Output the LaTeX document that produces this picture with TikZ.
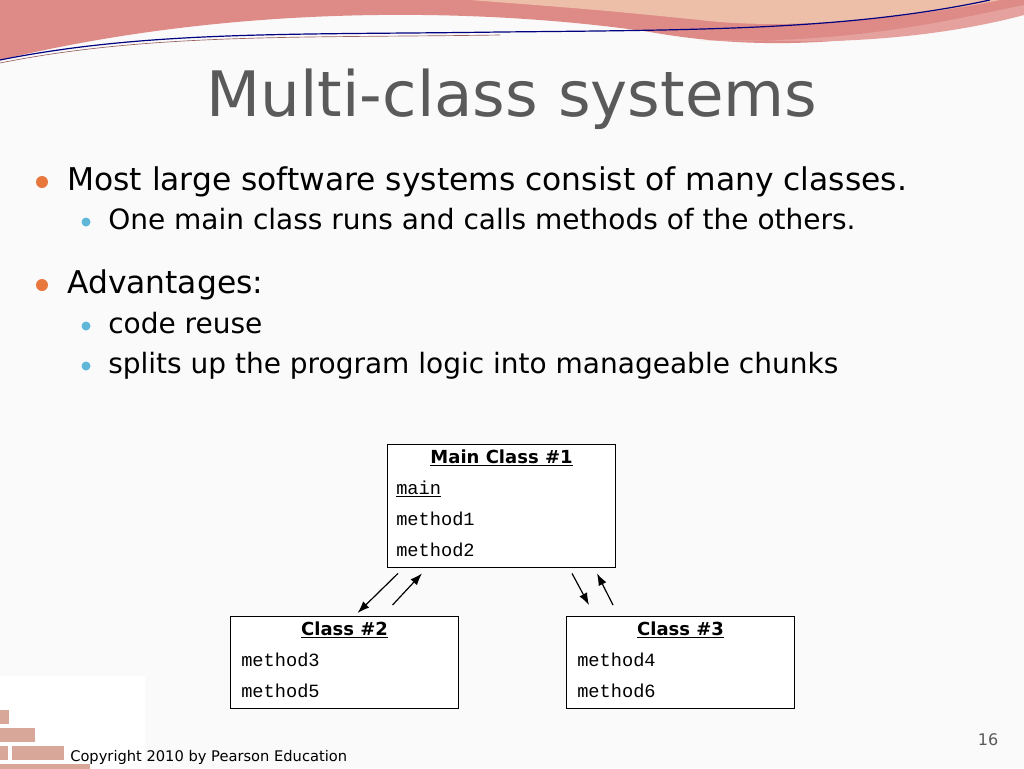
\documentclass[tikz,border=0pt]{standalone}
\usepackage{fontspec}
\setmainfont{DejaVu Sans}
\newfontfamily\codefont{Liberation Mono}
\usetikzlibrary{positioning,calc,arrows.meta}
\definecolor{swoosh}{HTML}{DE8A86}
\definecolor{swooshlt}{HTML}{EEBFA8}
\definecolor{bulletor}{HTML}{E8773D}
\definecolor{bulletbl}{HTML}{5FB6D9}
\definecolor{textgray}{HTML}{5A5A5A}
\definecolor{brick}{HTML}{D9A69A}
\tikzset{
  classbox/.style={draw, line width=0.8pt, fill=white, minimum width=171pt, anchor=north west, inner sep=0pt},
  hdr/.style={font=\fontsize{13.5}{13.5}\selectfont\bfseries, anchor=base},
  meth/.style={font=\codefont\fontsize{14}{14}\selectfont, anchor=base west, inner sep=0pt},
  call/.style={-{Latex[length=9pt,width=6.5pt]}, line width=0.9pt}
}
\begin{document}
\begin{tikzpicture}[x=0.75pt,y=-0.75pt]
\fill[white!96!gray] (0,0) rectangle (1024,768);
\useasboundingbox (0,0) rectangle (1024,768);

% top swoosh
\fill[swoosh] (0,0) -- (1024,0) -- (1024,8) .. controls (900,40) and (780,55) .. (650,32)
  .. controls (500,10) and (250,0) .. (0,60) -- cycle;
\fill[swooshlt] (470,0) -- (1000,0) .. controls (900,20) and (780,30) .. (700,20) .. controls (600,10) .. (470,0);
\fill[swoosh!80] (700,40) .. controls (850,45) and (950,20) .. (1024,5) -- (1024,15) .. controls (950,35) and (850,45) .. (760,40) -- cycle;
\draw[blue!50!black, line width=0.9pt] (0,60) .. controls (150,30) and (300,35) .. (500,32) .. controls (700,30) and (850,30) .. (990,0);
\draw[swoosh!70!black, line width=0.5pt] (0,63) .. controls (150,33) and (300,38) .. (500,35);

% title and bullets
\node[anchor=base, text=textgray, font=\fontsize{47}{47}\selectfont] (title) at (512,116) {Multi-class systems};
\foreach \y/\txt in {190/Most large software systems consist of many classes., 293/Advantages:} {
  \fill[bulletor] (42,\y-8) circle (6);
  \node[anchor=base west, inner sep=0pt, font=\fontsize{23.5}{23.5}\selectfont] at (67,\y) {\txt};
}
\foreach \y/\txt in {229/One main class runs and calls methods of the others., 333/code reuse, 373/splits up the program logic into manageable chunks} {
  \fill[bulletbl] (86,\y-7) circle (4.5);
  \node[anchor=base west, inner sep=0pt, font=\fontsize{21}{21}\selectfont] at (108,\y) {\txt};
}

% classes
\node[classbox, minimum height=92.5pt] (main) at (387,444) {};
\node[hdr] at ($(main.north)+(0,19)$) {\underline{Main Class \#1}};
\node[meth] at ($(main.north west)+(9,50)$) {\underline{main}};
\node[meth] at ($(main.north west)+(9,81)$) {method1};
\node[meth] at ($(main.north west)+(9,112)$) {method2};

\node[classbox, minimum height=69pt] (cls2) at (230,616) {};
\node[hdr] at ($(cls2.north)+(0,19)$) {\underline{Class \#2}};
\node[meth] at ($(cls2.north west)+(11,50)$) {method3};
\node[meth] at ($(cls2.north west)+(11,81)$) {method5};

\node[classbox, minimum height=69pt] (cls3) at (566,616) {};
\node[hdr] at ($(cls3.north)+(0,19)$) {\underline{Class \#3}};
\node[meth] at ($(cls3.north west)+(11,50)$) {method4};
\node[meth] at ($(cls3.north west)+(11,81)$) {method6};

\draw[call] ($(main.south west)+(11,5)$) -- ($(cls2.north)+(13,-3)$);
\draw[call] ($(cls2.north)+(48,-11)$) -- ($(main.south west)+(35,5)$);
\draw[call] ($(main.south west)+(185,5)$) -- ($(cls3.north west)+(23,-11)$);
\draw[call] ($(cls3.north west)+(47,-11)$) -- ($(main.south west)+(210,5)$);

% bricks and footer
\fill[white] (0,676) rectangle (145,768);
\foreach \x/\y/\w in {0/710/9, 0/728/35, 0/746/8, 12/746/52, 0/764/90} {
  \fill[brick] (\x,\y) rectangle (\x+\w,\y+14);
}
\node[anchor=base west, inner sep=0pt, font=\fontsize{11}{11}\selectfont] (copy) at (70,761) {Copyright 2010 by Pearson Education};
\node[anchor=base, inner sep=0pt, text=textgray, font=\fontsize{12}{12}\selectfont] (page) at (988,745) {16};
\end{tikzpicture}
\end{document}
